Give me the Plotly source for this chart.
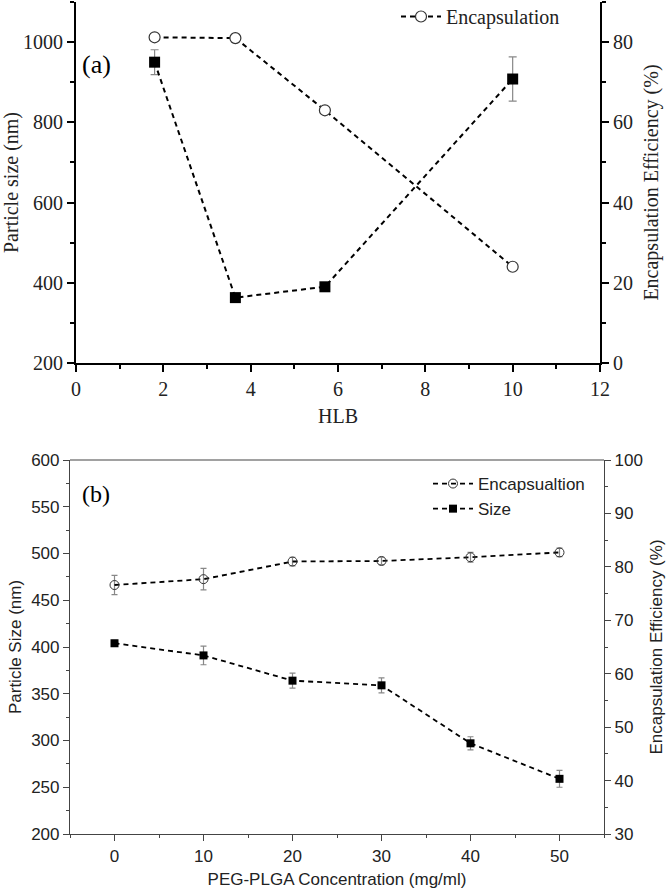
import plotly.graph_objects as go

# ---------- data: panel (a) ----------
hlb = [1.8, 3.65, 5.7, 10.0]
size_a = [950, 363, 390, 908]
size_a_err = [31, 8, 6, 55]
enc_a = [81.2, 81.0, 63.0, 24.0]

# ---------- data: panel (b) ----------
conc = [0, 10, 20, 30, 40, 50]
size_b = [404, 391, 364, 359, 297, 259]
size_b_err = [3, 10, 8, 8, 7, 9]
enc_b = [76.6, 77.7, 81.0, 81.1, 81.8, 82.7]
enc_b_err = [1.8, 2.0, 0.8, 0.7, 0.9, 0.8]

W, H = 666, 890
def px_x(p): return p / W
def px_y(p): return 1 - p / H

SERIF = "Liberation Serif"
SANS = "Liberation Sans"
DASH = "5px,4px"
FA = 20   # panel (a) font size
FB = 17   # panel (b) font size

fig = go.Figure()

# panel (a)
fig.add_trace(go.Scatter(
    x=hlb, y=size_a, mode="lines+markers", name="Size", showlegend=False,
    line=dict(color="black", width=2, dash=DASH),
    marker=dict(symbol="square", size=11, color="black"),
    error_y=dict(type="data", array=size_a_err, color="#888888", thickness=1.2, width=4),
    xaxis="x", yaxis="y"))
fig.add_trace(go.Scatter(
    x=hlb, y=enc_a, mode="lines+markers", name="Encapsulation", legend="legend",
    line=dict(color="black", width=2, dash=DASH),
    marker=dict(symbol="circle", size=11, color="white", line=dict(color="#333333", width=1.2)),
    xaxis="x", yaxis="y2"))

# panel (b)
fig.add_trace(go.Scatter(
    x=conc, y=enc_b, mode="lines+markers", name="Encapsualtion", legend="legend2",
    line=dict(color="black", width=1.8, dash=DASH),
    marker=dict(symbol="circle-open", size=9, color="#333333", line=dict(width=1)),
    error_y=dict(type="data", array=enc_b_err, color="#888888", thickness=1.2, width=3),
    xaxis="x2", yaxis="y4"))
fig.add_trace(go.Scatter(
    x=conc, y=size_b, mode="lines+markers", name="Size", legend="legend2",
    line=dict(color="black", width=1.8, dash=DASH),
    marker=dict(symbol="square", size=8, color="black"),
    error_y=dict(type="data", array=size_b_err, color="#888888", thickness=1.2, width=3),
    xaxis="x2", yaxis="y3"))

ax_a = dict(showgrid=False, zeroline=False, showline=True, linecolor="black", linewidth=2,
            ticks="outside", ticklen=7, tickwidth=2, tickcolor="black", automargin=False,
            tickfont=dict(family=SERIF, size=FA, color="#222222"))
minor_a = dict(ticks="outside", ticklen=4, tickwidth=2, tickcolor="black")
ax_b = dict(showgrid=False, zeroline=False, showline=True, linecolor="#444444", linewidth=1.2,
            ticks="outside", ticklen=6, tickwidth=1.2, tickcolor="#444444", automargin=False,
            tickfont=dict(family=SANS, size=FB, color="#222222"))
minor_b = dict(ticks="outside", ticklen=3, tickwidth=1.2, tickcolor="#444444")

dom_a_x = [px_x(76), px_x(600)]
dom_a_y = [px_y(363), px_y(2)]
dom_b_x = [px_x(70), px_x(604)]
dom_b_y = [px_y(834), px_y(460)]

fig.update_layout(
    width=W, height=H, margin=dict(l=0, r=0, t=0, b=0, autoexpand=False),
    paper_bgcolor="white", plot_bgcolor="white",
    xaxis=dict(ax_a, domain=dom_a_x, anchor="y", range=[0, 12], dtick=2, tick0=0,
               minor=dict(minor_a, dtick=1),
               title=dict(text="HLB", font=dict(family=SERIF, size=FA, color="#222222"), standoff=10)),
    yaxis=dict(ax_a, domain=dom_a_y, anchor="x", range=[200, 1100], dtick=200, tick0=200,
               minor=dict(minor_a, dtick=100),
               title=dict(text="Particle size (nm)", font=dict(family=SERIF, size=FA, color="#222222"), standoff=3)),
    yaxis2=dict(ax_a, overlaying="y", side="right", anchor="x", range=[0, 90], dtick=20, tick0=0,
                minor=dict(minor_a, dtick=10),
                title=dict(text="Encapsulation Efficiency (%)", font=dict(family=SERIF, size=FA, color="#222222"), standoff=12)),
    xaxis2=dict(ax_b, domain=dom_b_x, anchor="y3", range=[-5, 55], dtick=10, tick0=0,
                minor=dict(minor_b, dtick=5),
                title=dict(text="PEG-PLGA Concentration (mg/ml)", font=dict(family=SANS, size=FB, color="#222222"), standoff=8)),
    yaxis3=dict(ax_b, domain=dom_b_y, anchor="x2", range=[200, 600], dtick=50, tick0=200,
                minor=dict(minor_b, dtick=25),
                title=dict(text="Particle Size (nm)", font=dict(family=SANS, size=FB, color="#222222"), standoff=5)),
    yaxis4=dict(ax_b, overlaying="y3", side="right", anchor="x2", range=[30, 100], dtick=10, tick0=30,
                minor=dict(minor_b, dtick=5),
                title=dict(text="Encapsulation Efficiency (%)", font=dict(family=SANS, size=FB, color="#222222"), standoff=10)),
    legend=dict(x=px_x(396), y=px_y(-3), xanchor="left", yanchor="top",
                bgcolor="rgba(0,0,0,0)", font=dict(family=SERIF, size=FA, color="#222222"),
                itemwidth=40, tracegroupgap=0),
    legend2=dict(x=px_x(428), y=px_y(466), xanchor="left", yanchor="top",
                 bgcolor="rgba(0,0,0,0)", font=dict(family=SANS, size=FB, color="#222222"),
                 itemwidth=40, tracegroupgap=0),
    shapes=[
        dict(type="line", xref="x2 domain", yref="y3 domain", x0=0, x1=1, y0=1, y1=1,
             line=dict(color="#444444", width=1.2)),
    ],
    annotations=[
        dict(text="(a)", x=px_x(80), y=px_y(64), xref="paper", yref="paper",
             xanchor="left", yanchor="middle", showarrow=False,
             font=dict(family=SERIF, size=26, color="black")),
        dict(text="(b)", x=px_x(80), y=px_y(494), xref="paper", yref="paper",
             xanchor="left", yanchor="middle", showarrow=False,
             font=dict(family=SERIF, size=24, color="black")),
    ],
)

fig.write_html("out.html", config={"displayModeBar": False},
               post_script="document.body.style.margin='0px';")
